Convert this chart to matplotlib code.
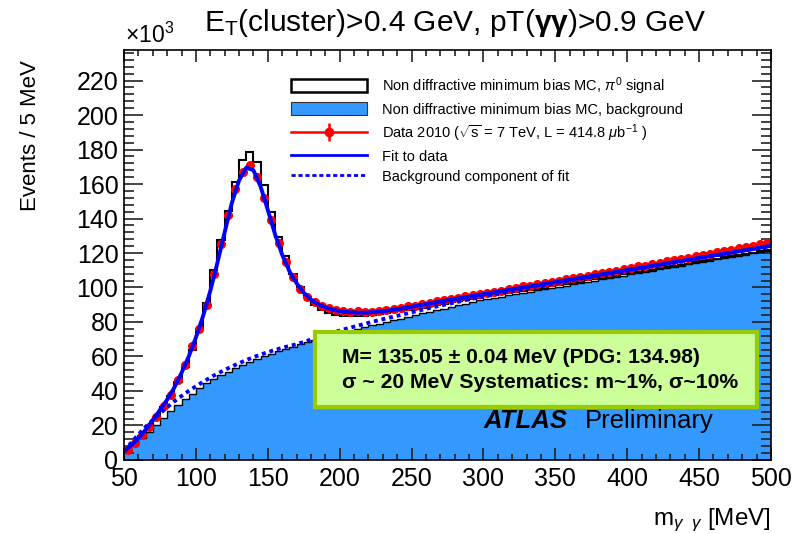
import numpy as np
import matplotlib
matplotlib.use('Agg')
import matplotlib.pyplot as plt
from matplotlib.patches import Patch, Rectangle
from matplotlib.lines import Line2D
from matplotlib.legend_handler import HandlerTuple
from matplotlib.ticker import MultipleLocator

plt.rcParams['font.family'] = ['Liberation Sans', 'DejaVu Sans']
plt.rcParams['mathtext.fontset'] = 'custom'
plt.rcParams['mathtext.rm'] = 'Liberation Sans'
plt.rcParams['mathtext.it'] = 'Liberation Sans:italic'
plt.rcParams['mathtext.bf'] = 'Liberation Sans:bold'

##############################################################################
# values in units of 10^3 events / 5 MeV

# histogram bins, 5 MeV wide from 50 to 500 MeV
bin_edges = np.arange(50, 505, 5)
bin_centers = bin_edges[:-1] + 2.5

# data 2010 (one value per bin)
data_k = [
    6, 10, 14.5, 19, 25, 31.5, 37.5, 46.5, 55, 66,
    76, 90, 108, 125, 142, 157, 167, 171, 164, 152,
    139, 126, 115, 106, 99, 94.5, 91.5, 89.5, 88, 87,
    86.5, 86, 86.3, 85.8, 86, 86.5, 87.2, 87.5, 88.3, 89,
    89.5, 90.6, 91, 92.1, 92.5, 93.6, 94, 95.1, 95.5, 96.2,
    96.8, 97.6, 98.1, 99, 99.5, 100.6, 101.1, 101.9, 102.5, 103.4,
    104, 104.9, 105.4, 106.3, 106.9, 107.7, 108.3, 109.2, 109.8, 110.7,
    111.2, 112.2, 112.7, 113.7, 114.2, 115.2, 115.7, 116.7, 117.2, 118.2,
    118.8, 119.7, 120.3, 121.2, 121.8, 122.7, 123.4, 124.3, 125, 125.9,
]

# non diffractive minimum bias MC, background (one value per bin)
mc_bkg_k = [
    5.5, 9, 12.5, 16.5, 20.5, 24.5, 28.5, 32, 35.5, 38.5,
    41.5, 44.5, 47, 49.3, 51.3, 53.2, 55, 56.8, 58.5, 60,
    61.6, 63, 64.4, 65.7, 67, 68.2, 69.5, 70.7, 71.8, 73,
    74, 75, 76, 77, 78, 79, 80, 81, 82, 83,
    84, 85, 86, 86.9, 87.8, 88.7, 89.6, 90.5, 91.5, 92.5,
    93.2, 93.9, 94.7, 95.4, 96.1, 96.8, 97.5, 98.3, 99.0, 99.7,
    100.4, 101.1, 101.9, 102.6, 103.3, 104.0, 104.7, 105.5, 106.2, 106.9,
    107.6, 108.3, 109.1, 109.8, 110.5, 111.2, 111.9, 112.7, 113.4, 114.1,
    114.8, 115.5, 116.3, 117.0, 117.7, 118.4, 119.1, 119.9, 120.6, 121.3,
]

# non diffractive minimum bias MC, pi0 signal (stacked on the background)
mc_sig_k = [
    1, 1, 1.5, 2.5, 4, 6, 8.5, 13, 18.5, 25.5,
    34.5, 46.5, 63, 78.2, 93.2, 107.8, 119, 121.7, 114.5, 99.5,
    82.4, 66.5, 53.6, 42.3, 33.5, 26.3, 20.5, 16.3, 13.2, 11,
    9.5, 8.5, 7.5, 6.7, 6, 5.5, 5, 4.6, 4.2, 4,
    3.7, 3.4, 3.2, 3.0, 2.9, 2.7, 2.5, 2.3, 2.0, 1.7,
    1.6, 1.5, 1.4, 1.3, 1.2, 1.1, 1.0, 1.0, 0.9, 0.9,
    0.8, 0.8, 0.8, 0.8, 0.8, 0.7, 0.7, 0.7, 0.7, 0.7,
    0.6, 0.6, 0.6, 0.6, 0.6, 0.5, 0.5, 0.5, 0.5, 0.5,
    0.4, 0.4, 0.4, 0.4, 0.4, 0.3, 0.3, 0.3, 0.3, 0.3,
]

# fit to data, read at the bin edges 50, 55, ..., 500
fit_k = [
    5, 8.5, 12.5, 17.5, 23, 29, 35, 42, 50.5, 60,
    71, 83.5, 98, 114.5, 132, 149, 162, 169.5, 168, 158.5,
    145, 131, 119, 109.5, 102.5, 97, 93, 90.3, 88.5, 87.2,
    86.3, 85.8, 85.5, 85.4, 85.5, 85.8, 86.2, 86.8, 87.4, 88.1,
    88.8, 89.6, 90.3, 91.1, 91.8, 92.6, 93.3, 94.0, 94.7, 95.4,
    96.1, 96.8, 97.5, 98.2, 98.9, 99.6, 100.3, 101.0, 101.7, 102.4,
    103.1, 103.8, 104.5, 105.2, 105.9, 106.6, 107.3, 108.0, 108.7, 109.4,
    110.1, 110.8, 111.5, 112.2, 112.9, 113.6, 114.3, 115.0, 115.7, 116.4,
    117.1, 117.8, 118.5, 119.2, 119.9, 120.6, 121.3, 122.0, 122.7, 123.4,
    124.2,
]

# background component of fit, same points as the fit
bkg_fit_k = [
    5, 10, 14.8, 19.2, 23.2, 27, 30.6, 34, 37.1, 40,
    42.7, 45.3, 47.8, 50.1, 52.2, 54.2, 56.1, 57.9, 59.6, 61.1,
    62.5, 63.8, 65, 66.1, 67.1, 68.4, 69.8, 71.2, 72.5, 73.8,
    75, 76.2, 77.3, 78.4, 79.5, 80.6, 81.6, 82.6, 83.6, 84.6,
    85.6, 86.6, 87.6, 88.6, 89.5, 90.4, 91.3, 92.2, 93.1, 94.0,
    94.9, 95.7, 96.5, 97.3, 98.1, 98.9, 99.6, 100.4, 101.1, 101.9,
    102.6, 103.3, 104.0, 104.8, 105.5, 106.2, 106.9, 107.7, 108.4, 109.1,
    109.8, 110.5, 111.2, 112.0, 112.7, 113.4, 114.1, 114.9, 115.6, 116.3,
    117.0, 117.7, 118.4, 119.1, 119.9, 120.6, 121.3, 122.0, 122.7, 123.4,
    124.1,
]

##############################################################################

fit_mass = bin_edges
mc_bkg = np.array(mc_bkg_k)
mc_total = mc_bkg + np.array(mc_sig_k)

blue_fill = '#3399ff'

fig = plt.figure(figsize=(7.95, 5.34), dpi=100)
ax = fig.add_axes([0.156, 0.1386, 0.8138, 0.7678])

# MC stack: background (blue) with signal on top (white, black outline)
ax.stairs(mc_bkg, bin_edges, fill=True, color=blue_fill, zorder=1)
ax.stairs(mc_total, bin_edges, baseline=mc_bkg, fill=True, color='white', zorder=1)
ax.stairs(mc_bkg, bin_edges, baseline=None, color='black', lw=1, zorder=2)
ax.stairs(mc_total, bin_edges, baseline=None, color='black', lw=1.5, zorder=2)

# data
ax.errorbar(bin_centers, data_k, xerr=2.5, fmt='o', color='red', ms=5.5,
            elinewidth=2.4, capsize=0, zorder=3)

# fit and its background component
ax.plot(fit_mass, bkg_fit_k, color='blue', lw=2.8, ls=(0, (1, 1)), zorder=4)
ax.plot(fit_mass, fit_k, color='blue', lw=2.8, zorder=5)

ax.set_xlim(50, 500)
ax.set_ylim(0, 237.7)
ax.xaxis.set_major_locator(MultipleLocator(50))
ax.xaxis.set_minor_locator(MultipleLocator(10))
ax.yaxis.set_major_locator(MultipleLocator(20))
ax.yaxis.set_minor_locator(MultipleLocator(4))
ax.tick_params(axis='both', which='both', direction='in', top=True, right=True,
               labelsize=18, width=1.2, color='#222222')
ax.tick_params(axis='y', which='major', length=14, pad=4)
ax.tick_params(axis='y', which='minor', length=7)
ax.tick_params(axis='x', which='major', length=8.5, pad=5)
ax.tick_params(axis='x', which='minor', length=4.5)
for s in ax.spines.values():
    s.set_linewidth(1.2)
    s.set_zorder(6)

# legend
handles = [
    Patch(facecolor='white', edgecolor='black', lw=1.8),
    Patch(facecolor=blue_fill, edgecolor='#333333', lw=0.8),
    (Line2D([], [], color='red', lw=1.8),
     Line2D([], [], color='red', marker='o', ms=6, ls='none'),
     Line2D([], [], color='red', marker='|', ms=13, mew=1.8, ls='none')),
    Line2D([], [], color='blue', lw=2),
    Line2D([], [], color='blue', lw=2, ls=(0, (1.5, 1))),
]
labels = [
    r'Non diffractive minimum bias MC, $\pi^0$ signal',
    'Non diffractive minimum bias MC, background',
    r'Data 2010 ($\sqrt{\mathrm{s}}$ = 7 TeV, L = 414.8 $\mu$b$^{-1}$ )',
    'Fit to data',
    'Background component of fit',
]
ax.legend(handles, labels, handler_map={tuple: HandlerTuple(ndivide=1)},
          loc='upper left', bbox_to_anchor=(291 / 795, 1 - 75 / 534),
          bbox_transform=fig.transFigure, frameon=False, fontsize=10.5,
          handlelength=5.2, handleheight=1.0, handletextpad=1.05,
          labelspacing=0.38, borderpad=0, borderaxespad=0)

# result box
ax.add_patch(Rectangle((0.295, 0.129), 0.683, 0.183, transform=ax.transAxes,
                       facecolor='#ccff99', edgecolor='#99cc00', lw=3, zorder=7))
ax.text(0.337, 0.251, 'M= 135.05 ± 0.04 MeV (PDG: 134.98)', transform=ax.transAxes,
        fontsize=15.2, fontweight='bold', va='center', zorder=8)
ax.text(0.337, 0.188, 'σ ~ 20 MeV Systematics: m~1%, σ~10%', transform=ax.transAxes,
        fontsize=15.2, fontweight='bold', va='center', zorder=8)

ax.text(0.556, 0.095, 'ATLAS', transform=ax.transAxes, fontsize=18.5,
        fontweight='bold', style='italic', va='center', zorder=8)
ax.text(0.7125, 0.095, 'Preliminary', transform=ax.transAxes, fontsize=18.5,
        va='center', zorder=8)

# titles and axis labels
fig.text(0.572, 0.957, r'E$_\mathrm{T}$(cluster)>0.4 GeV, pT($\mathbf{\gamma\gamma}$)>0.9 GeV',
         fontsize=21.5, ha='center', va='center')
fig.text(0.157, 0.934, r'$\times$10$^3$', fontsize=16.5, ha='left', va='center')
fig.text(0.038, 0.888, 'Events / 5 MeV', fontsize=16, rotation=90,
         ha='center', va='top')
fig.text(0.969, 0.026, r'm$_{\gamma\ \ \gamma}$ [MeV]', fontsize=17.5,
         ha='right', va='center')

fig.savefig('out.png', dpi=100)
